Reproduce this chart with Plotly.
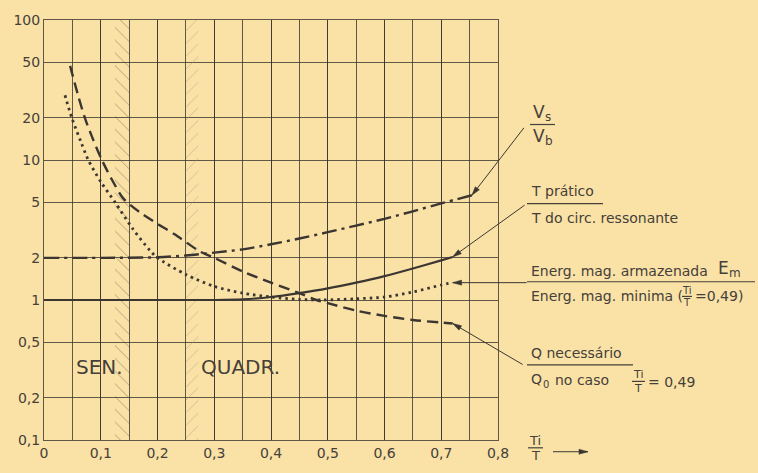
import math
import numpy as np
import plotly.graph_objects as go

# ---- data: ratio Ti/T on x, ratios on a logarithmic y scale ----
vsvb_x = [0.0, 0.1, 0.2, 0.25, 0.3, 0.35, 0.4, 0.45, 0.5, 0.55, 0.6, 0.65, 0.7, 0.754]
vsvb_y = [2.0, 2.0, 2.02, 2.08, 2.18, 2.3, 2.5, 2.75, 3.05, 3.4, 3.8, 4.3, 4.9, 5.6]

tprat_x = [0.0, 0.3, 0.35, 0.4, 0.45, 0.5, 0.55, 0.6, 0.65, 0.7, 0.72]
tprat_y = [1.0, 1.0, 1.01, 1.05, 1.12, 1.21, 1.33, 1.48, 1.68, 1.92, 2.03]

energ_x = [0.037, 0.049, 0.065, 0.078, 0.1, 0.125, 0.157, 0.187, 0.2, 0.25,
           0.3, 0.35, 0.4, 0.45, 0.49, 0.55, 0.6, 0.65, 0.7, 0.72]
energ_y = [29, 20, 13.5, 10, 7, 5, 3.2, 2.25, 2.0, 1.52,
           1.25, 1.12, 1.05, 1.01, 1.0, 1.02, 1.05, 1.14, 1.28, 1.33]

q_x = [0.046, 0.06, 0.072, 0.085, 0.102, 0.12, 0.14, 0.17, 0.2, 0.23, 0.275,
       0.3, 0.35, 0.4, 0.45, 0.48, 0.5, 0.55, 0.6, 0.65, 0.7, 0.72]
q_y = [47, 29, 20, 14.5, 10, 7.2, 5.3, 4.2, 3.5, 2.95, 2.22,
       2.0, 1.6, 1.33, 1.12, 1.0, 0.95, 0.84, 0.77, 0.72, 0.69, 0.68]

# operating regions (Ti/T)
sen_band = (0.125, 0.15)
quadr_band = (0.25, 0.272)

x_ticks = [0.0, 0.1, 0.2, 0.3, 0.4, 0.5, 0.6, 0.7, 0.8]
x_ticktext = ["0", "0,1", "0,2", "0,3", "0,4", "0,5", "0,6", "0,7", "0,8"]
y_ticks = [0.1, 0.2, 0.5, 1, 2, 5, 10, 20, 50, 100]
y_ticktext = ["0,1", "0,2", "0,5", "1", "2", "5", "10", "20", "50", "100"]

# ---- styling ----
INK = "#3b3631"
TXT = "#45403a"
PAPER = "#fae2a6"
FONT = "DejaVu Sans"

W, H = 758, 473
ML, MR, MT, MB = 44, 260, 18, 25
PW, PH = W - ML - MR, H - MT - MB
X_RANGE = (0.0, 0.8)
LOG_RANGE = (-1.0, 2.0)


def px(x):
    return (x - ML) / PW


def py(y):
    return (H - MB - y) / PH


def data_to_pix(x, y):
    return (ML + (x - X_RANGE[0]) / (X_RANGE[1] - X_RANGE[0]) * PW,
            MT + (LOG_RANGE[1] - math.log10(y)) / (LOG_RANGE[1] - LOG_RANGE[0]) * PH)


fig = go.Figure()

# hatched bands
for band, shape, col in [(sen_band, "\\", "#5a5046"), (quadr_band, "/", "#a39679")]:
    fig.add_trace(go.Scatter(
        x=[band[0], band[1], band[1], band[0], band[0]],
        y=[0.1, 0.1, 100, 100, 0.1],
        mode="lines", line=dict(width=0), fill="toself",
        fillcolor="rgba(0,0,0,0)",
        fillpattern=dict(shape=shape, size=9, solidity=0.1,
                         fgcolor=col, bgcolor="rgba(0,0,0,0)"),
        hoverinfo="skip", showlegend=False))

curves = [
    (vsvb_x, vsvb_y, dict(color=INK, width=2.4, dash="15px,5px,3px,5px")),
    (tprat_x, tprat_y, dict(color=INK, width=2.2)),
    (energ_x, energ_y, dict(color=INK, width=2.8, dash="2.5px,4px")),
    (q_x, q_y, dict(color=INK, width=2.4, dash="11px,6px")),
]
for xs, ys, ln in curves:
    fig.add_trace(go.Scatter(x=xs, y=ys, mode="lines",
                             line=dict(shape="spline", smoothing=0.8, **ln),
                             showlegend=False, hoverinfo="skip"))

annotations = []
shapes = []


def arrow_px(tx, ty, hx, hy, length=9.0, half=2.6):
    """Thin line with a filled head, both ends given in pixels."""
    shapes.append(dict(type="line", xref="paper", yref="paper",
                       x0=px(tx), y0=py(ty), x1=px(hx), y1=py(hy),
                       line=dict(color=INK, width=1)))
    d = math.hypot(hx - tx, hy - ty)
    ux, uy = (hx - tx) / d, (hy - ty) / d
    bx, by = hx - length * ux, hy - length * uy
    nx, ny = -uy, ux
    pts = [(hx, hy), (bx + half * nx, by + half * ny), (bx - half * nx, by - half * ny)]
    path = "M " + " L ".join(f"{px(a):.5f},{py(b):.5f}" for a, b in pts) + " Z"
    shapes.append(dict(type="path", xref="paper", yref="paper", path=path,
                       fillcolor=INK, line=dict(color=INK, width=0.5)))


def leader(x, y, dx, dy):
    """Leader from a label (offset dx, dy in px) to the curve point (x, y)."""
    hx, hy = data_to_pix(x, y)
    arrow_px(hx + dx, hy + dy, hx, hy)


def label(text, x, y, size=14, anchor="left"):
    annotations.append(dict(x=px(x), y=py(y), xref="paper", yref="paper",
                            text=text, showarrow=False, xanchor=anchor,
                            yanchor="middle", font=dict(family=FONT, size=size, color=TXT)))


def bar(x0, x1, y):
    shapes.append(dict(type="line", xref="paper", yref="paper",
                       x0=px(x0), x1=px(x1), y0=py(y), y1=py(y),
                       line=dict(color=TXT, width=1.2)))


# leader arrows to curve ends
leader(vsvb_x[-1], vsvb_y[-1], 52, -69)
leader(tprat_x[-1], tprat_y[-1], 72, -53)
leader(energ_x[-1], energ_y[-1], 74, 0)
leader(q_x[-1], q_y[-1], 70, 42)

# Vs / Vb
label("V", 531, 112, 17)
label("s", 543, 117, 12)
bar(530, 555, 125)
label("V", 531, 137, 17)
label("b", 543, 142, 12)

# T pratico / T do circ. ressonante
label("T prático", 529, 193)
bar(527, 603, 206)
label("T do circ. ressonante", 529, 221)

# Energia magnetica
label("Energ. mag. armazenada", 529, 275)
label("E", 716, 272, 17)
label("m", 727, 277, 12)
bar(527, 755, 286)
label("Energ. mag. minima (", 529, 301)
label("Ti", 687, 295, 10, "center")
bar(682, 692, 301)
label("T", 687, 307, 10, "center")
label("=0,49)", 693, 301)

# Q necessario
label("Q necessário", 529, 359)
bar(527, 633, 371)
label("Q", 529, 386)
label("0", 541, 391, 10)
label("no caso", 553, 387)
label("Ti", 638, 381, 11, "center")
bar(632, 645, 388)
label("T", 638, 395, 11, "center")
label("= 0,49", 646, 389)

# axis title Ti/T with arrow
label("Ti", 535, 449, 13, "center")
bar(528, 543, 456)
label("T", 535, 464, 13, "center")
arrow_px(553, 460, 588, 460)

# region names
annotations.append(dict(x=0.0986, y=np.log10(0.33), xref="x", yref="y", text="SEN.",
                        showarrow=False, font=dict(family=FONT, size=20, color=TXT)))
annotations.append(dict(x=0.347, y=np.log10(0.33), xref="x", yref="y", text="QUADR.",
                        showarrow=False, font=dict(family=FONT, size=20, color=TXT)))

grid = "rgba(58,52,46,0.8)"
fig.update_layout(
    width=W, height=H,
    margin=dict(l=ML, r=MR, t=MT, b=MB),
    paper_bgcolor=PAPER, plot_bgcolor=PAPER,
    showlegend=False,
    annotations=annotations, shapes=shapes,
    xaxis=dict(range=list(X_RANGE), tickvals=x_ticks, ticktext=x_ticktext,
               showgrid=True, gridcolor=grid, gridwidth=1, zeroline=False,
               minor=dict(dtick=0.05, tick0=0, showgrid=True,
                          gridcolor=grid, gridwidth=1, ticks=""),
               showline=True, linecolor=grid, linewidth=1, mirror=True,
               ticks="", tickfont=dict(family=FONT, size=14, color=TXT)),
    yaxis=dict(type="log", range=list(LOG_RANGE), tickvals=y_ticks, ticktext=y_ticktext,
               showgrid=True, gridcolor=grid, gridwidth=1, zeroline=False,
               showline=True, linecolor=grid, linewidth=1, mirror=True,
               ticks="", tickfont=dict(family=FONT, size=14, color=TXT)),
)

fig.write_html("out.html")
